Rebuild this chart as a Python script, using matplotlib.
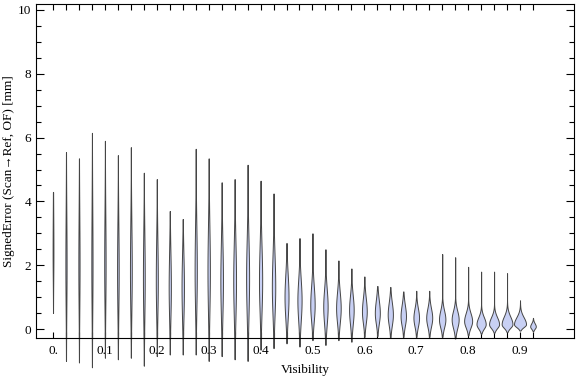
import numpy as np
import matplotlib
matplotlib.use("Agg")
import matplotlib.pyplot as plt
from matplotlib.ticker import MultipleLocator

plt.rcParams['font.family'] = ['Liberation Serif', 'DejaVu Serif']

# visibility bins (violin centres)
visibility = [round(i * 0.025, 3) for i in range(38)]

# min, max, peak location, peak half-width (px), spread
lows = [0.5, -1.0, -1.05, -1.2, -0.9, -0.95, -0.9, -1.15, -0.85, -0.8,
        -0.8, -0.8, -1.0, -0.85, -0.95, -1.0, -0.65, -0.6, -0.45, -0.55,
        -0.35, -0.5, -0.35, -0.4, -0.25, -0.22, -0.28, -0.25, -0.25, -0.25,
        -0.25, -0.3, -0.2, -0.15, -0.12, -0.1, -0.05, -0.08]
highs = [4.3, 5.55, 5.35, 6.15, 5.9, 5.45, 5.7, 4.9, 4.7, 3.7,
         3.45, 5.65, 5.35, 4.6, 4.7, 5.15, 4.65, 4.25, 2.7, 2.85,
         3.0, 2.5, 2.15, 1.9, 1.65, 1.35, 1.32, 1.18, 1.2, 1.2,
         2.35, 2.25, 1.95, 1.8, 1.8, 1.75, 0.9, 0.35]
modes = [2.4, 2.0, 2.0, 2.0, 2.0, 1.8, 1.8, 1.6, 1.5, 1.3,
         1.3, 1.8, 1.8, 1.5, 1.5, 1.6, 1.5, 1.3, 1.0, 0.9,
         0.75, 0.7, 0.65, 0.6, 0.55, 0.5, 0.45, 0.4, 0.35, 0.35,
         0.3, 0.3, 0.25, 0.15, 0.15, 0.15, 0.15, 0.08]
half_widths = [0.4, 0.6, 0.6, 0.6, 0.7, 0.8, 0.9, 0.9, 1.0, 1.1,
               1.2, 1.1, 1.2, 1.3, 1.4, 1.5, 1.6, 1.7, 2.0, 2.1,
               2.2, 2.2, 2.3, 2.3, 2.4, 2.5, 2.6, 2.7, 2.8, 3.0,
               3.2, 3.5, 4.0, 4.6, 5.0, 5.4, 6.0, 2.8]
spreads = [1.2, 1.6, 1.6, 1.8, 1.6, 1.5, 1.5, 1.4, 1.3, 1.1,
           1.0, 1.4, 1.4, 1.2, 1.2, 1.2, 1.1, 1.0, 0.7, 0.65,
           0.6, 0.55, 0.5, 0.45, 0.42, 0.4, 0.38, 0.35, 0.3, 0.3,
           0.28, 0.27, 0.25, 0.22, 0.22, 0.24, 0.22, 0.1]

fig = plt.figure(figsize=(5.76, 3.77), dpi=100)
ax = fig.add_axes([0.0625, 0.1034, 0.934, 0.886])
ax.set_xlim(-0.0328, 1.004)
ax.set_ylim(-0.282, 10.188)

px = 1.0 / 518.9  # data units per pixel along x
for x, lo, hi, m, hw, s in zip(visibility, lows, highs, modes, half_widths, spreads):
    y = np.linspace(lo, hi, 300)
    s_down = min(s, (m - lo) / 2.2)
    sig = np.where(y < m, s_down, s)
    w = hw * px * np.exp(-0.5 * ((y - m) / sig) ** 2)
    w[0] = w[-1] = 0
    ax.fill_betweenx(y, x - w, x + w, facecolor='#c8d0f4', edgecolor='#454545',
                     linewidth=0.7, clip_on=False, zorder=2)

ax.set_xticks(visibility)
ax.set_xticklabels(['0.' if i == 0 else (f'{v:.1f}' if i % 4 == 0 else '')
                    for i, v in enumerate(visibility)])
ax.set_yticks(range(0, 11, 2))
ax.yaxis.set_minor_locator(MultipleLocator(0.5))
ax.tick_params(axis='x', direction='in', length=4, width=0.8, top=True, labelsize=9.5, pad=5)
ax.tick_params(axis='y', which='major', direction='in', length=6, width=0.8, right=True, labelsize=9.5)
ax.tick_params(axis='y', which='minor', direction='in', length=3.5, width=0.8, right=True)
for sp in ax.spines.values():
    sp.set_linewidth(0.8)

ax.set_xlabel('Visibility', fontsize=9.5, labelpad=5)
ax.set_ylabel('SignedError (Scan\u2192Ref, OF) [mm]', fontsize=9.5, labelpad=2)

fig.savefig('out.png', dpi=100)
